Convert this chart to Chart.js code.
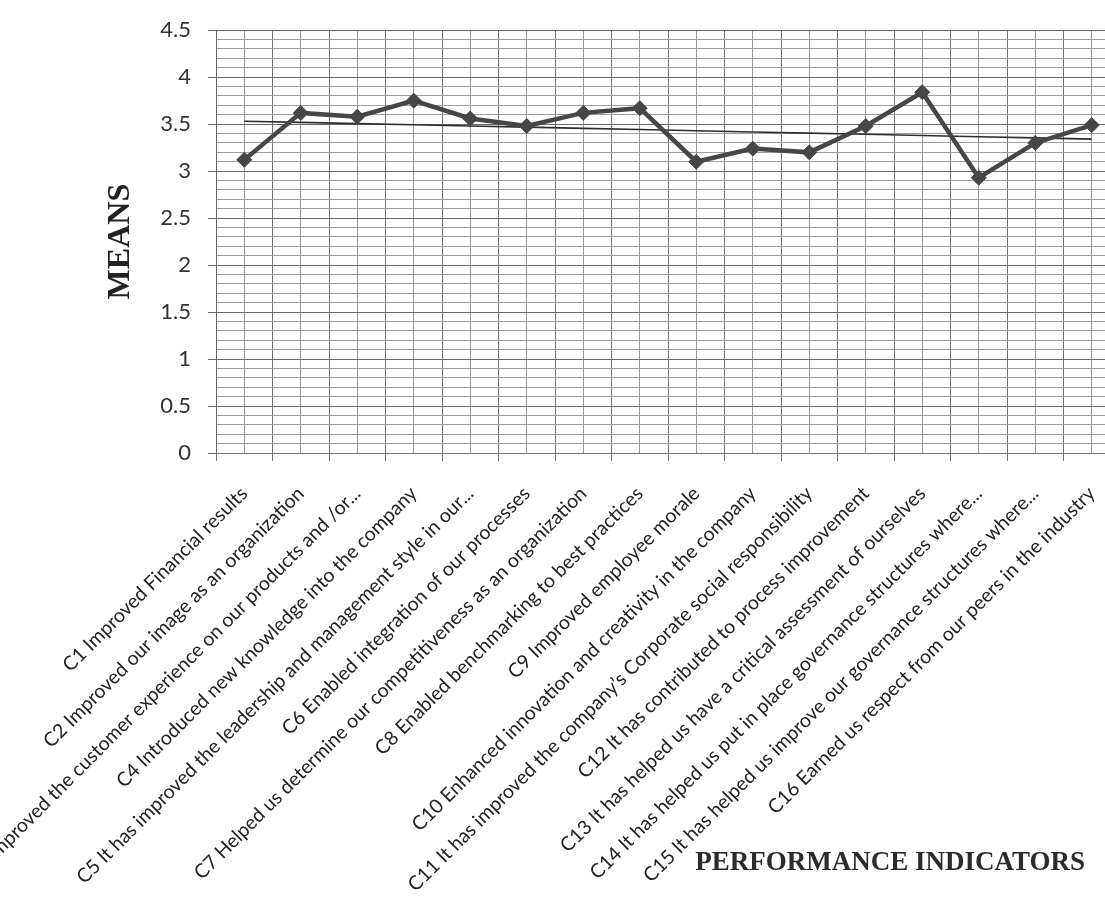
<!DOCTYPE html>
<html>
<head>
<meta charset="utf-8">
<script src="https://cdn.jsdelivr.net/npm/chart.js@4.4.1/dist/chart.umd.min.js"></script>
<style>
  html, body { margin: 0; padding: 0; background: #fff; overflow: hidden; width: 1105px; height: 898px; }
  #wrap { position: absolute; left: 0; top: 0; width: 1120px; height: 898px; }
</style>
</head>
<body>
<div id="wrap"><canvas id="c" width="1120" height="898"></canvas></div>
<script>
// Performance indicators (x categories)
const categories = [
  "C1 Improved Financial results",
  "C2 Improved our image as an organization",
  "C3 Improved the customer experience on our products and /or...",
  "C4 Introduced new knowledge into the company",
  "C5 It has improved the leadership and management style in our...",
  "C6 Enabled integration of our processes",
  "C7 Helped us determine our competitiveness as an organization",
  "C8 Enabled benchmarking to best practices",
  "C9 Improved employee morale",
  "C10 Enhanced innovation and creativity in the company",
  "C11 It has improved the company\u2019s Corporate social responsibility",
  "C12 It has contributed to process improvement",
  "C13 It has helped us have a critical assessment of ourselves",
  "C14 It has helped us put in place governance structures where...",
  "C15 It has helped us improve our governance structures where...",
  "C16 Earned us respect from our peers in the industry"
];

// Mean score per indicator
const means = [3.12, 3.62, 3.58, 3.75, 3.56, 3.48, 3.62, 3.67, 3.10, 3.24, 3.20, 3.48, 3.84, 2.93, 3.30, 3.49];

// Value axis range and grid spacing
const yMin = 0;
const yMax = 4.5;
const majorStep = 0.5;
const minorStep = 0.1;

// Least-squares linear trend of the means over the indicator index
function linearTrend(values) {
  const n = values.length;
  const xs = values.map((_, i) => i + 1);
  const mx = xs.reduce((a, b) => a + b, 0) / n;
  const my = values.reduce((a, b) => a + b, 0) / n;
  let sxy = 0, sxx = 0;
  for (let i = 0; i < n; i++) {
    sxy += (xs[i] - mx) * (values[i] - my);
    sxx += (xs[i] - mx) * (xs[i] - mx);
  }
  const slope = sxy / sxx;
  return xs.map(x => my + slope * (x - mx));
}
const trend = linearTrend(means);

const isMajor = v => Math.abs(v / majorStep - Math.round(v / majorStep)) < 1e-6;

// Horizontal axis caption, right-aligned under the plot
const xAxisCaption = {
  id: 'xAxisCaption',
  afterDraw(chart) {
    const { ctx } = chart;
    ctx.save();
    ctx.font = 'bold 27px "Liberation Serif"';
    ctx.fillStyle = '#2b2b2b';
    ctx.textAlign = 'right';
    ctx.textBaseline = 'alphabetic';
    ctx.fillText('PERFORMANCE INDICATORS', chart.scales.x.right - 35, chart.height - 28);
    ctx.restore();
  }
};

new Chart(document.getElementById('c'), {
  type: 'line',
  data: {
    labels: categories,
    datasets: [
      {
        label: 'Mean',
        data: means,
        borderColor: '#464646',
        borderWidth: 4.5,
        tension: 0,
        pointStyle: 'rectRot',
        pointRadius: 7.5,
        pointBackgroundColor: '#464646',
        pointBorderColor: '#464646',
        pointBorderWidth: 1,
        order: 1
      },
      {
        label: 'Linear (Mean)',
        data: trend,
        borderColor: '#2e2e2e',
        borderWidth: 1.6,
        tension: 0,
        pointRadius: 0,
        order: 2
      }
    ]
  },
  options: {
    responsive: false,
    animation: false,
    layout: { autoPadding: false, padding: { top: 16, left: 0, right: 0, bottom: 0 } },
    plugins: { legend: { display: false }, tooltip: { enabled: false } },
    scales: {
      x: {
        type: 'category',
        offset: true,
        grid: { offset: true, color: '#747474', lineWidth: 1, tickLength: 8, tickColor: '#747474' },
        border: { color: '#747474' },
        ticks: {
          autoSkip: false,
          minRotation: 45,
          maxRotation: 45,
          padding: 21,
          color: '#222',
          font: { family: 'Lato', size: 19.5 }
        },
        afterFit(s) { s.height = 445; s.paddingLeft = 0; s.paddingRight = 0; }
      },
      xc: {
        type: 'category',
        labels: categories,
        position: 'bottom',
        offset: true,
        grid: { offset: false, color: '#979797', drawTicks: false },
        border: { display: false },
        ticks: { display: false },
        afterFit(s) { s.height = 0; s.paddingLeft = 0; s.paddingRight = 0; }
      },
      y: {
        min: yMin,
        max: yMax,
        ticks: {
          stepSize: minorStep,
          autoSkip: false,
          maxTicksLimit: 100,
          padding: 17,
          color: '#333',
          font: { family: 'Lato', size: 22 },
          callback: v => isMajor(v) ? String(+v.toFixed(1)) : ''
        },
        grid: {
          lineWidth: 1,
          tickLength: 8,
          color: c => (c.tick && isMajor(c.tick.value)) ? '#6a6a6a' : '#9e9e9e',
          tickColor: c => (c.tick && isMajor(c.tick.value)) ? '#6a6a6a' : 'rgba(0,0,0,0)'
        },
        border: { color: '#6a6a6a' },
        title: {
          display: true,
          text: 'MEANS',
          color: '#222',
          font: { family: 'Liberation Serif', size: 32, weight: 'bold' },
          padding: { top: 102, bottom: 0 }
        },
        afterFit(s) { s.width = 216; }
      }
    }
  },
  plugins: [xAxisCaption]
});
</script>
</body>
</html>
